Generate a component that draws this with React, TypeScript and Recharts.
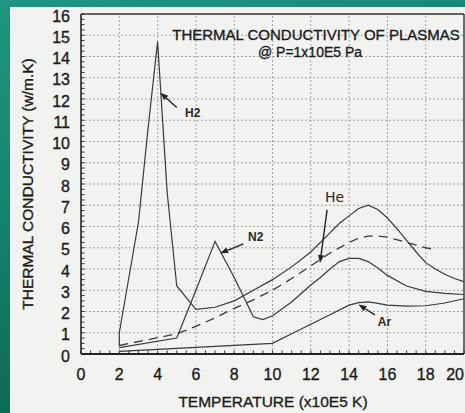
import React from "react";
import { LineChart, Line, XAxis, YAxis, ReferenceLine, ReferenceDot } from "recharts";

// temperature (x10E5 K) vs thermal conductivity (w/m.K)
const h2Temp = [2, 2, 3, 3.5, 4, 4.5, 5, 6, 7, 8, 9, 10, 11, 12, 13, 13.5, 14, 14.5, 15, 15.5, 16, 16.5, 17, 17.5, 18, 18.5, 19, 19.5, 20];
const h2Cond = [0.35, 1.0, 6.2, 10.6, 14.7, 7.6, 3.2, 2.1, 2.2, 2.5, 3.0, 3.5, 4.1, 4.8, 5.7, 6.15, 6.5, 6.85, 7.0, 6.8, 6.4, 5.9, 5.35, 4.8, 4.3, 4.0, 3.75, 3.55, 3.4];

const heTemp = [2, 5, 6, 7, 8, 9, 10, 11, 12, 13, 14, 14.5, 15, 15.5, 16, 17, 18, 18.5];
const heCond = [0.4, 0.95, 1.3, 1.7, 2.15, 2.55, 3.0, 3.55, 4.15, 4.75, 5.25, 5.45, 5.55, 5.55, 5.5, 5.25, 5.0, 4.9];

const n2Temp = [2, 5, 6, 7, 8, 9, 9.5, 10, 11, 12, 12.5, 13, 13.5, 14, 14.5, 15, 15.5, 16, 17, 18, 19, 20];
const n2Cond = [0.3, 0.75, 3.0, 5.3, 3.6, 1.75, 1.62, 1.8, 2.45, 3.25, 3.6, 4.0, 4.35, 4.5, 4.5, 4.35, 4.05, 3.7, 3.2, 2.95, 2.85, 2.8];

const arTemp = [2, 10, 11, 12, 13, 14, 14.5, 15, 15.5, 16, 17, 18, 19, 20];
const arCond = [0.12, 0.5, 0.95, 1.4, 1.85, 2.3, 2.42, 2.45, 2.38, 2.3, 2.25, 2.27, 2.4, 2.6];

const xTickLabels = [0, 2, 4, 6, 8, 10, 12, 14, 16, 18, 20];
const yTickLabels = [0, 1, 2, 3, 4, 5, 6, 7, 8, 9, 10, 11, 12, 13, 14, 15, 16];
const xGrid = [2, 4, 6, 8, 10, 12, 14, 16, 18];
const yGrid = [1, 2, 3, 4, 5, 6, 7, 8, 9, 10, 11, 12, 13, 14, 15];

// small inward ticks every 0.5 on x and 0.25 on y
const xMinor = Array.from({ length: 41 }, (_, i) => i * 0.5);
const yMinor = Array.from({ length: 65 }, (_, i) => i * 0.25);

// curve callouts: label anchor and arrow tail -> head, in data units
const callouts = [
  { name: "H2", label: [5.43, 11.15], from: [5.0, 11.6], to: [4.14, 12.3] },
  { name: "N2", label: [8.72, 5.3], from: [8.48, 5.18], to: [7.26, 4.74] },
  { name: "He", label: [12.74, 7.15], from: [12.85, 6.78], to: [12.48, 4.28] },
  { name: "Ar", label: [15.5, 1.32], from: [15.35, 1.84], to: [14.49, 2.33] },
];

const toPoints = (xs: number[], ys: number[]) => xs.map((x, i) => ({ x, y: ys[i] }));
const h2Data = toPoints(h2Temp, h2Cond);
const heData = toPoints(heTemp, heCond);
const n2Data = toPoints(n2Temp, n2Cond);
const arData = toPoints(arTemp, arCond);

const ink = "#1c1c1c";
const font = "'Liberation Sans', Arial, sans-serif";
// the scanned lettering is a little heavier than plain regular
const heavy = { stroke: ink, strokeWidth: 0.35 };

const XTick = (props: any) => {
  const { x, y, payload } = props;
  const v = payload.value;
  const last = v === 20;
  return (
    <g>
      <line x1={x} y1={y} x2={x} y2={y - 3.5} stroke="#333" strokeWidth={1} />
      {xTickLabels.includes(v) && (
        <text
          x={last ? x : x}
          y={y + 26}
          textAnchor={last ? "end" : "middle"}
          fontSize={16}
          fontFamily={font}
          fill={ink}
          {...heavy}
        >
          {v}
        </text>
      )}
    </g>
  );
};

const YTick = (props: any) => {
  const { x, y, payload } = props;
  const v = payload.value;
  return (
    <g>
      <line x1={x} y1={y} x2={x + 3.5} y2={y} stroke="#333" strokeWidth={1} />
      {yTickLabels.includes(v) && (
        <text x={x - 11} y={y + 7.5} textAnchor="end" fontSize={16} fontFamily={font} fill={ink} {...heavy}>
          {v}
        </text>
      )}
    </g>
  );
};

const Arrow = (p: any) => {
  const { x1, y1, x2, y2 } = p;
  const a = Math.atan2(y2 - y1, x2 - x1);
  const len = 8, half = 3;
  const bx = x2 - len * Math.cos(a), by = y2 - len * Math.sin(a);
  const nx = -Math.sin(a) * half, ny = Math.cos(a) * half;
  return (
    <g>
      <line x1={x1} y1={y1} x2={bx} y2={by} stroke="#222" strokeWidth={1.4} />
      <polygon points={`${x2},${y2} ${bx + nx},${by + ny} ${bx - nx},${by - ny}`} fill="#222" />
    </g>
  );
};

export default function App() {
  return (
    <div
      style={{
        position: "absolute",
        left: 0,
        top: 0,
        width: 465,
        height: 413,
        overflow: "hidden",
        background: "linear-gradient(165deg, #1e9682 0%, #14806a 45%, #0a5a43 100%)",
      }}
    >
      <div style={{ position: "absolute", left: 10, top: 7, right: 0, bottom: 0, background: "#f2f2f0" }} />
      <div style={{ position: "absolute", left: 0, top: 0 }}>
        <LineChart width={465} height={413} margin={{ top: 14, right: 1, left: 0, bottom: 0 }}>
          <XAxis
            type="number"
            dataKey="x"
            domain={[0, 20]}
            ticks={xMinor}
            interval={0}
            tickSize={0}
            tickMargin={0}
            tickLine={false}
            tick={<XTick />}
            height={59}
            axisLine={{ stroke: "#222", strokeWidth: 2 }}
            allowDataOverflow
          />
          <YAxis
            type="number"
            dataKey="y"
            domain={[0, 16]}
            ticks={yMinor}
            interval={0}
            tickSize={0}
            tickMargin={0}
            tickLine={false}
            tick={<YTick />}
            width={81}
            axisLine={{ stroke: "#222", strokeWidth: 1.6 }}
            allowDataOverflow
          />
          {yGrid.map((v) => (
            <ReferenceLine key={"gy" + v} y={v} stroke="#a3a3a3" strokeDasharray="2 2" strokeWidth={1} />
          ))}
          {xGrid.map((v) => (
            <ReferenceLine key={"gx" + v} x={v} stroke="#a3a3a3" strokeDasharray="2 2" strokeWidth={1} />
          ))}
          <ReferenceLine y={16} stroke="#333" strokeWidth={1.4} />
          <ReferenceLine x={20} stroke="#333" strokeWidth={1.4} />

          <Line data={arData} dataKey="y" type="linear" stroke="#3a3a3a" strokeWidth={1.2} dot={false} isAnimationActive={false} />
          <Line data={n2Data} dataKey="y" type="linear" stroke="#3a3a3a" strokeWidth={1.2} dot={false} isAnimationActive={false} />
          <Line data={heData} dataKey="y" type="linear" stroke="#3a3a3a" strokeWidth={1.3} strokeDasharray="9 6" dot={false} isAnimationActive={false} />
          <Line data={h2Data} dataKey="y" type="linear" stroke="#3a3a3a" strokeWidth={1.2} dot={false} isAnimationActive={false} />

          {callouts.map((c) => (
            <ReferenceLine
              key={"ar" + c.name}
              segment={[
                { x: c.from[0], y: c.from[1] },
                { x: c.to[0], y: c.to[1] },
              ]}
              shape={<Arrow />}
            />
          ))}
          {callouts.map((c) => (
            <ReferenceDot
              key={"lb" + c.name}
              x={c.label[0]}
              y={c.label[1]}
              r={0}
              shape={(p: any) => (
                <text
                  x={p.cx}
                  y={p.cy}
                  fontSize={c.name === "He" ? 14 : 12}
                  fontWeight={c.name === "He" ? 400 : 700}
                  fontFamily={c.name === "He" ? "'DejaVu Sans', sans-serif" : font}
                  fill="#2a2a2a"
                >
                  {c.name}
                </text>
              )}
            />
          ))}
        </LineChart>
      </div>
      <svg width={465} height={413} style={{ position: "absolute", left: 0, top: 0, pointerEvents: "none" }}>
        <text x={316} y={40} textAnchor="middle" fontSize={15} fontFamily={font} fill={ink} {...heavy}>
          THERMAL CONDUCTIVITY OF PLASMAS
        </text>
        <text x={310} y={57} textAnchor="middle" fontSize={14} fontFamily={font} fill={ink} {...heavy}>
          @ P=1x10E5 Pa
        </text>
        <text x={273} y={407} textAnchor="middle" fontSize={15.5} fontFamily={font} fill={ink} {...heavy}>
          TEMPERATURE (x10E5 K)
        </text>
        <text
          x={0}
          y={0}
          transform="translate(33 184) rotate(-90)"
          textAnchor="middle"
          fontSize={15.5}
          fontFamily={font}
          fill={ink}
          {...heavy}
        >
          THERMAL CONDUCTIVITY (w/m.K)
        </text>
      </svg>
    </div>
  );
}
